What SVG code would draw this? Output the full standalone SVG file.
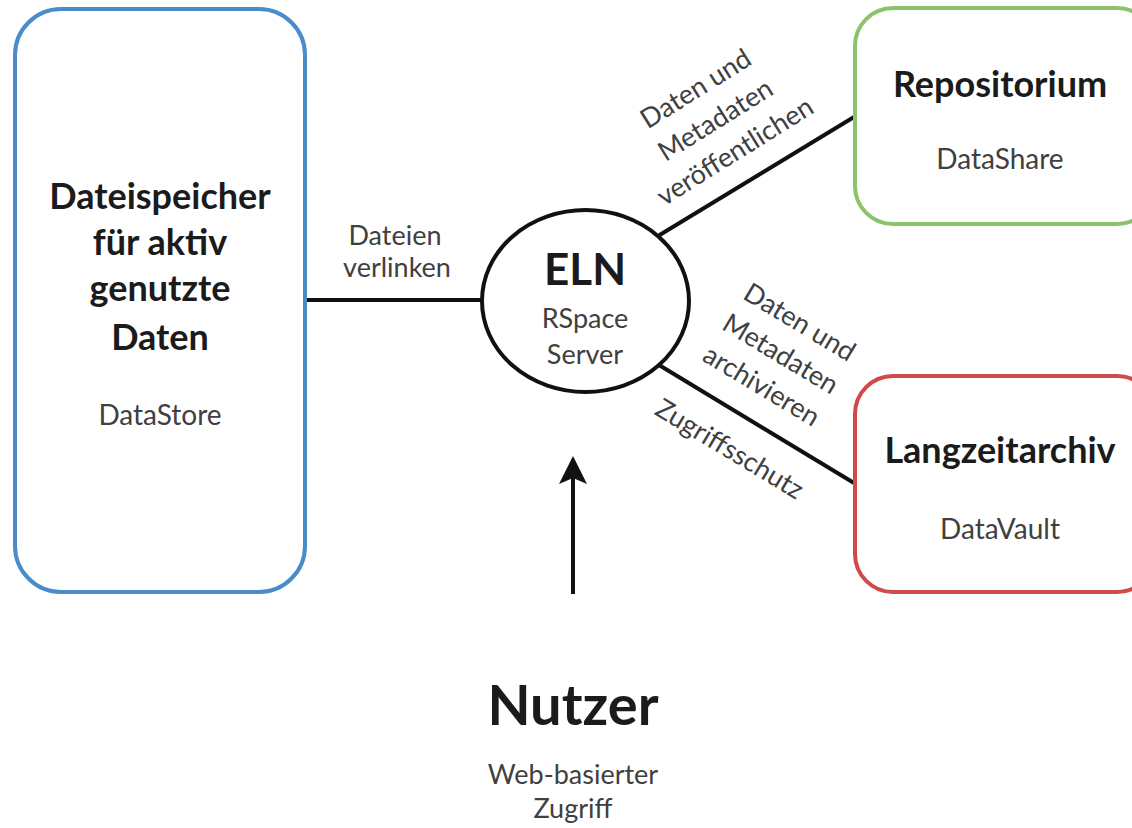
<svg xmlns="http://www.w3.org/2000/svg" width="1132" height="828" viewBox="0 0 1132 828">
<style>
.t{font-family:Lato,"Open Sans","Liberation Sans",sans-serif;text-anchor:middle}
.b{font-weight:700;fill:#1b1b1b}
.r{font-weight:400;fill:#404040}
.lbl{font-size:27px}
.sub{font-size:28px}
.con{stroke:#111;stroke-width:4;fill:none}
</style>
<rect width="1132" height="828" fill="#fff"/>
<g id="connectors">
<line class="con" x1="306" y1="300" x2="482" y2="300"/>
<line class="con" x1="658" y1="236" x2="854" y2="117"/>
<line class="con" x1="659" y1="365" x2="854" y2="483"/>
<line class="con" x1="573" y1="594" x2="573" y2="476" stroke-width="5"/>
<path d="M573,456 L587,484 L573,478 L559,484 Z" fill="#111"/>
<g class="t r lbl">
<text x="395" y="245">Dateien</text>
<text x="397" y="277">verlinken</text>
</g>
<g class="t r lbl" transform="translate(716,121) rotate(-32)">
<text x="0" y="-29">Daten und</text>
<text x="0" y="8">Metadaten</text>
<text x="0" y="45">veröffentlichen</text>
</g>
<g class="t r lbl" transform="translate(780,355) rotate(31)">
<text x="0" y="-29">Daten und</text>
<text x="0" y="8">Metadaten</text>
<text x="0" y="45">archivieren</text>
</g>
<g class="t r lbl" transform="translate(729,450) rotate(31)">
<text x="0" y="8">Zugriffsschutz</text>
</g>
</g>
<g id="datastore">
<rect x="15" y="9" width="290" height="583" rx="46" fill="#fff" stroke="#4a8ccb" stroke-width="4"/>
<g class="t b" font-size="36">
<text x="160" y="209">Dateispeicher</text>
<text x="160" y="255">für aktiv</text>
<text x="160" y="301">genutzte</text>
<text x="160" y="350">Daten</text>
</g>
<text class="t r sub" x="160" y="425">DataStore</text>
</g>
<g id="eln">
<ellipse cx="585.5" cy="301" rx="103.5" ry="91" fill="#fff" stroke="#111" stroke-width="4"/>
<text class="t b" x="585" y="285" font-size="44">ELN</text>
<text class="t r lbl" x="585" y="328">RSpace</text>
<text class="t r lbl" x="585" y="364">Server</text>
</g>
<g id="repositorium">
<rect x="855" y="8" width="300" height="216" rx="38" fill="#fff" stroke="#8cc26a" stroke-width="4"/>
<text class="t b" x="1000" y="97" font-size="36">Repositorium</text>
<text class="t r sub" x="1000" y="169">DataShare</text>
</g>
<g id="langzeitarchiv">
<rect x="855" y="376" width="300" height="216" rx="38" fill="#fff" stroke="#cf4b4b" stroke-width="4"/>
<text class="t b" x="1000" y="463" font-size="36">Langzeitarchiv</text>
<text class="t r sub" x="1000" y="539">DataVault</text>
</g>
<g id="nutzer">
<text class="t b" x="573" y="725" font-size="56">Nutzer</text>
<text class="t r lbl" x="573" y="784">Web-basierter</text>
<text class="t r lbl" x="573" y="818">Zugriff</text>
</g>
</svg>
